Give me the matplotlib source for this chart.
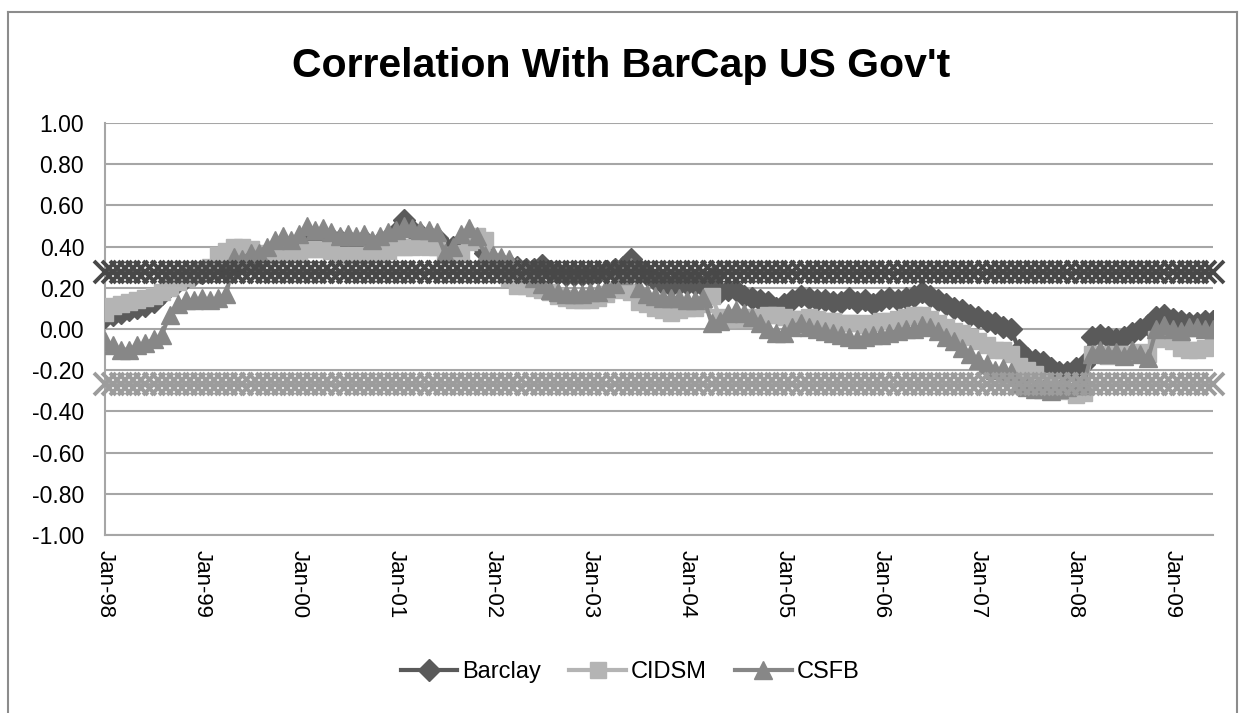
import matplotlib
matplotlib.use("Agg")
import matplotlib.pyplot as plt
from matplotlib.lines import Line2D

# monthly, Jan-98 .. Jun-09
barclay = [
    0.06, 0.07, 0.08, 0.09, 0.10, 0.11, 0.13, 0.17, 0.21, 0.23, 0.25, 0.26,
    0.27, 0.28, 0.29, 0.30, 0.31, 0.32, 0.33, 0.34, 0.36, 0.38, 0.40, 0.41,
    0.42, 0.44, 0.45, 0.45, 0.44, 0.43, 0.43, 0.42, 0.43, 0.41, 0.42, 0.44,
    0.47, 0.53, 0.48, 0.46, 0.45, 0.44, 0.40, 0.40, 0.42, 0.44, 0.42, 0.37,
    0.33, 0.32, 0.31, 0.30, 0.29, 0.29, 0.31, 0.28, 0.27, 0.26, 0.26, 0.26,
    0.26, 0.27, 0.28, 0.29, 0.30, 0.34, 0.29, 0.26, 0.24, 0.22, 0.21, 0.22,
    0.22, 0.22, 0.21, 0.25, 0.18, 0.19, 0.19, 0.16, 0.15, 0.14, 0.13, 0.10,
    0.12, 0.14, 0.16, 0.15, 0.14, 0.14, 0.13, 0.13, 0.15, 0.13, 0.14, 0.12,
    0.14, 0.15, 0.14, 0.15, 0.16, 0.18, 0.16, 0.14, 0.12, 0.10, 0.09, 0.07,
    0.06, 0.04, 0.03, 0.01, 0.00, -0.10, -0.14, -0.15, -0.16, -0.19, -0.21, -0.21,
    -0.19, -0.17, -0.04, -0.03, -0.04, -0.05, -0.04, -0.02, 0.00, 0.02, 0.06, 0.07,
    0.05, 0.04, 0.03, 0.03, 0.04, 0.04,
]
cidsm = [
    0.08, 0.11, 0.12, 0.13, 0.14, 0.15, 0.16, 0.18, 0.20, 0.23, 0.25, 0.27,
    0.28, 0.30, 0.36, 0.38, 0.40, 0.40, 0.39, 0.37, 0.36, 0.36, 0.37, 0.37,
    0.37, 0.39, 0.39, 0.39, 0.38, 0.36, 0.36, 0.36, 0.36, 0.37, 0.37, 0.38,
    0.40, 0.40, 0.40, 0.41, 0.40, 0.40, 0.36, 0.36, 0.37, 0.42, 0.45, 0.43,
    0.33, 0.30, 0.25, 0.21, 0.21, 0.20, 0.19, 0.18, 0.16, 0.15, 0.14, 0.14,
    0.14, 0.15, 0.17, 0.19, 0.21, 0.18, 0.13, 0.12, 0.10, 0.09, 0.08, 0.09,
    0.10, 0.10, 0.12, 0.16, 0.06, 0.05, 0.05, 0.06, 0.05, 0.06, 0.07, 0.07,
    0.06, 0.05, 0.05, 0.06, 0.05, 0.04, 0.04, 0.03, 0.03, 0.03, 0.02, 0.03,
    0.04, 0.04, 0.05, 0.06, 0.07, 0.07, 0.05, 0.03, 0.01, -0.01, -0.02, -0.04,
    -0.06, -0.08, -0.10, -0.10, -0.12, -0.18, -0.20, -0.22, -0.25, -0.27, -0.29, -0.30,
    -0.32, -0.31, -0.12, -0.12, -0.13, -0.12, -0.12, -0.12, -0.11, -0.12, -0.05, -0.04,
    -0.06, -0.09, -0.10, -0.10, -0.09, -0.05,
]
csfb = [
    -0.06, -0.08, -0.10, -0.10, -0.08, -0.07, -0.05, -0.03, 0.07, 0.12, 0.14, 0.14,
    0.15, 0.14, 0.15, 0.17, 0.35, 0.34, 0.37, 0.37, 0.40, 0.43, 0.45, 0.43,
    0.46, 0.50, 0.48, 0.49, 0.47, 0.45, 0.46, 0.45, 0.46, 0.43, 0.45, 0.47,
    0.48, 0.50, 0.49, 0.48, 0.48, 0.47, 0.37, 0.40, 0.46, 0.49, 0.45, 0.36,
    0.36, 0.35, 0.34, 0.30, 0.27, 0.25, 0.22, 0.19, 0.18, 0.17, 0.17, 0.17,
    0.18, 0.18, 0.20, 0.22, 0.26, 0.30, 0.20, 0.17, 0.16, 0.15, 0.15, 0.15,
    0.14, 0.14, 0.15, 0.03, 0.04, 0.08, 0.09, 0.08, 0.06, 0.03, 0.00, -0.02,
    -0.02, 0.01, 0.03, 0.01, 0.00, -0.01, -0.02, -0.03, -0.04, -0.05, -0.04, -0.03,
    -0.03, -0.02, -0.01, 0.00, 0.00, 0.02, 0.01, -0.01, -0.04, -0.06, -0.09, -0.12,
    -0.15, -0.17, -0.20, -0.19, -0.21, -0.26, -0.28, -0.29, -0.29, -0.30, -0.29, -0.28,
    -0.27, -0.27, -0.12, -0.10, -0.12, -0.11, -0.13, -0.10, -0.12, -0.14, 0.00, 0.02,
    0.00, -0.01, 0.01, 0.01, 0.00, 0.00,
]
upper_bound = 0.275
lower_bound = -0.265

year_labels = ["Jan-98", "Jan-99", "Jan-00", "Jan-01", "Jan-02", "Jan-03",
               "Jan-04", "Jan-05", "Jan-06", "Jan-07", "Jan-08", "Jan-09"]
y_ticks = [1.0, 0.8, 0.6, 0.4, 0.2, 0.0, -0.2, -0.4, -0.6, -0.8, -1.0]

n = len(barclay)
x = list(range(n))

fig = plt.figure(figsize=(12.43, 7.13), dpi=100)
ax = fig.add_axes([105 / 1243, 1 - 535 / 713, (1213 - 105) / 1243, (535 - 123) / 713])

ax.plot(x, barclay, color="#5a5a5a", lw=3, marker="D", ms=11.5, mec="#5a5a5a", label="Barclay", zorder=3)
ax.plot(x, cidsm, color="#b4b4b4", lw=3, marker="s", ms=11, mec="#b4b4b4", label="CIDSM", zorder=4)
ax.plot(x, csfb, color="#878787", lw=3, marker="^", ms=13, mec="#878787", label="CSFB", zorder=5)
ax.plot(x, [upper_bound] * n, color="#484848", lw=2, marker="x", ms=16, mew=2.8, zorder=6, clip_on=False)
ax.plot(x, [lower_bound] * n, color="#9c9c9c", lw=2, marker="x", ms=16, mew=2.8, zorder=6, clip_on=False)

ax.set_xlim(0, n - 1)
ax.set_ylim(-1, 1)
ax.set_yticks(y_ticks)
ax.set_yticklabels([f"{v:.2f}" for v in y_ticks], fontsize=16.5, family="Liberation Sans")
ax.set_xticks(list(range(0, n, 12)))
ax.set_xticklabels(year_labels, rotation=-90, fontsize=16, family="Liberation Sans")
ax.tick_params(axis="x", length=0, pad=11)
ax.tick_params(axis="y", length=0, pad=15)
ax.grid(axis="y", color="#a6a6a6", lw=1.5)
ax.set_axisbelow(True)
for side in ["top", "right"]:
    ax.spines[side].set_visible(False)
for side in ["left", "bottom"]:
    ax.spines[side].set_color("#a6a6a6")
    ax.spines[side].set_linewidth(1.5)

fig.text(0.5, 1 - 66 / 713, "Correlation With BarCap US Gov't", ha="center", va="center",
         fontsize=29.5, fontweight="bold", family="Liberation Sans")

fig.legend(handles=ax.get_lines()[:3], loc="center", bbox_to_anchor=(630 / 1243, 1 - 672 / 713),
           ncol=3, frameon=False, prop={"family": "Liberation Sans", "size": 17},
           handlelength=2.4, handletextpad=0.2, columnspacing=1.2)

# chart border
frame_kw = dict(color="#8c8c8c", lw=1.5, transform=fig.transFigure)
fig.add_artist(Line2D([8 / 1243, 8 / 1243], [0, 1 - 12 / 713], **frame_kw))
fig.add_artist(Line2D([8 / 1243, 1237 / 1243], [1 - 12 / 713, 1 - 12 / 713], **frame_kw))
fig.add_artist(Line2D([1237 / 1243, 1237 / 1243], [0, 1 - 12 / 713], **frame_kw))

fig.savefig("out.png", dpi=100)
